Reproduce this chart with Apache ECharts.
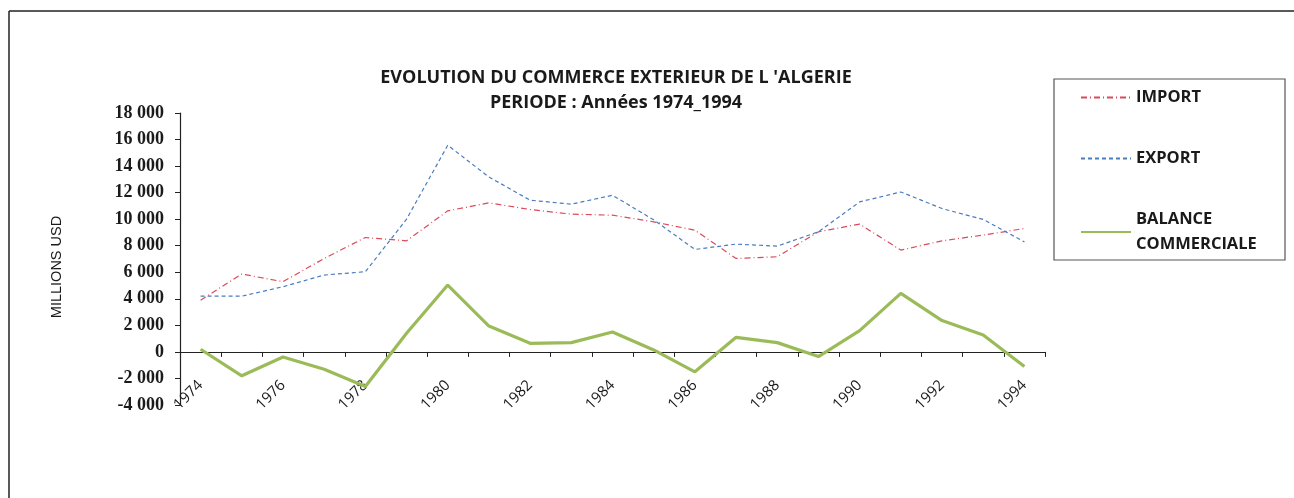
<!DOCTYPE html>
<html>
<head>
<meta charset="utf-8">
<script src="https://cdn.jsdelivr.net/npm/echarts@6/dist/echarts.min.js"></script>
<style>
html,body{margin:0;padding:0;background:#fff;}
#chart{width:1294px;height:498px;}
</style>
</head>
<body>
<div id="chart"></div>
<script>
const years = ['1974','1975','1976','1977','1978','1979','1980','1981','1982','1983','1984','1985','1986','1987','1988','1989','1990','1991','1992','1993','1994'];
const importValues = [3900, 5870, 5290, 7040, 8620, 8370, 10630, 11230, 10730, 10380, 10300, 9800, 9170, 7040, 7170, 9050, 9630, 7670, 8370, 8800, 9300];
const exportValues = [4200, 4200, 4910, 5790, 6040, 10000, 15570, 13180, 11430, 11130, 11800, 9950, 7720, 8120, 7970, 9050, 11300, 12050, 10800, 9980, 8290];
const balanceValues = [200, -1800, -380, -1300, -2600, 1400, 5040, 1950, 650, 700, 1500, 150, -1500, 1100, 700, -350, 1600, 4410, 2360, 1280, -1100];
const seriesNames = ['IMPORT', 'EXPORT', 'BALANCE\nCOMMERCIALE'];
const titleLines = ["EVOLUTION DU COMMERCE EXTERIEUR DE L 'ALGERIE", 'PERIODE : Années 1974_1994'];
const yAxisName = 'MILLIONS USD';
const yMin = -4000, yMax = 18000;

const gridTop = 113, gridBottomPx = 405;
const zeroOffset = (gridBottomPx - gridTop) * (0 - yMin) / (yMax - yMin);

const chart = echarts.init(document.getElementById('chart'), null, {renderer: 'canvas'});
const fmt = v => {
  const s = Math.abs(v).toString();
  const t = s.length > 3 ? s.slice(0, s.length - 3) + ' ' + s.slice(-3) : s;
  return (v < 0 ? '-' : '') + t;
};
chart.setOption({
  backgroundColor: '#ffffff',
  animation: false,
  title: {
    text: titleLines.join('\n'),
    left: 611,
    top: 60,
    textAlign: 'center',
    textStyle: {fontFamily: 'Open Sans', fontWeight: 'bold', fontSize: 18, lineHeight: 25, color: '#1a1a1a'}
  },
  graphic: [
    {type: 'line', shape: {x1: 9, y1: 11, x2: 1294, y2: 11}, style: {stroke: '#222', lineWidth: 1.5}},
    {type: 'line', shape: {x1: 9, y1: 11, x2: 9, y2: 498}, style: {stroke: '#222', lineWidth: 1.5}},
    {type: 'rect', shape: {x: 1054, y: 79, width: 231, height: 181}, style: {fill: 'none', stroke: '#555', lineWidth: 1.2}, z: 0}
  ],
  legend: {
    orient: 'vertical',
    left: 1080,
    top: 85,
    itemWidth: 50,
    itemHeight: 14,
    itemGap: 36,
    padding: 0,
    data: seriesNames,
    itemStyle: {opacity: 0},
    textStyle: {fontFamily: 'Open Sans', fontWeight: 'bold', fontSize: 16.5, color: '#1a1a1a', lineHeight: 25}
  },
  grid: {left: 180, right: 249, top: gridTop, bottom: 498 - gridBottomPx, containLabel: false},
  xAxis: {
    type: 'category',
    data: years,
    boundaryGap: true,
    offset: -zeroOffset,
    axisLine: {onZero: false, lineStyle: {color: '#222', width: 1.2}},
    axisTick: {show: true, interval: 0, length: 5, lineStyle: {color: '#222'}},
    axisLabel: {interval: 1, rotate: 45, margin: 31, fontFamily: 'Open Sans', fontSize: 15, color: '#1a1a1a'}
  },
  yAxis: {
    type: 'value',
    min: yMin,
    max: yMax,
    interval: 2000,
    name: yAxisName,
    nameLocation: 'middle',
    nameRotate: 90,
    nameGap: 116,
    nameTextStyle: {fontFamily: 'Liberation Sans Narrow, Liberation Sans', fontSize: 14.5, color: '#1a1a1a', padding: [0, 16, 0, 0]},
    axisLine: {show: true, lineStyle: {color: '#222', width: 1.2}},
    axisTick: {show: true, length: 5, lineStyle: {color: '#222'}},
    splitLine: {show: false},
    axisLabel: {formatter: fmt, margin: 16, fontFamily: 'Liberation Serif', fontWeight: 'bold', fontSize: 18, color: '#1a1a1a'}
  },
  series: [
    {name: seriesNames[0], type: 'line', data: importValues, symbol: 'none', smooth: false,
     lineStyle: {color: '#dc4a5a', width: 1.2, type: [6, 3, 1, 3]}, itemStyle: {color: '#dc4a5a'}},
    {name: seriesNames[1], type: 'line', data: exportValues, symbol: 'none',
     lineStyle: {color: '#4a7cc0', width: 1.2, type: [4, 3]}, itemStyle: {color: '#4a7cc0'}},
    {name: seriesNames[2], type: 'line', data: balanceValues, symbol: 'none',
     lineStyle: {color: '#9bbb59', width: 3.2}, itemStyle: {color: '#9bbb59'}}
  ]
});
</script>
</body>
</html>
